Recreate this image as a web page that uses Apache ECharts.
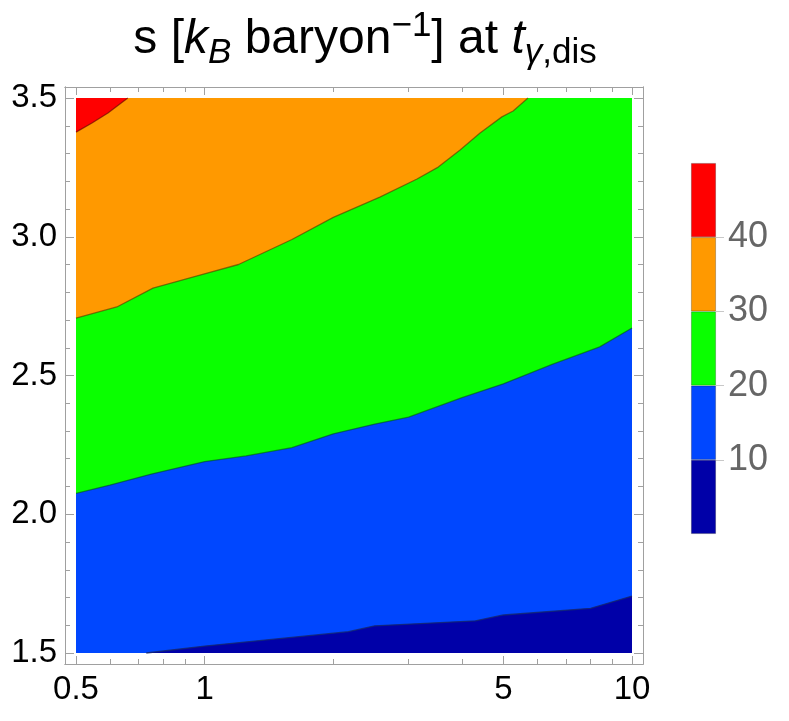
<!DOCTYPE html>
<html><head><meta charset="utf-8">
<script src="https://cdn.jsdelivr.net/npm/echarts@6/dist/echarts.min.js"></script>
<style>html,body{margin:0;padding:0;background:#fff}#c{width:789px;height:721px}</style>
</head><body><div id="c"></div>
<script>
// ---- data ----
const xTickValues = [0.5, 1, 5, 10];
const xTickLabels = ['0.5', '1', '5', '10'];
const xMinorTicks = [0.6, 0.7, 0.8, 0.9, 2, 3, 4, 6, 7, 8, 9];
const yTickValues = [1.5, 2.0, 2.5, 3.0, 3.5];
const yTickLabels = ['1.5', '2.0', '2.5', '3.0', '3.5'];
const yMinorTicks = [1.6, 1.7, 1.8, 1.9, 2.1, 2.2, 2.3, 2.4, 2.6, 2.7, 2.8, 2.9, 3.1, 3.2, 3.3, 3.4];
const xRange = [0.5, 10];
const yRange = [1.5, 3.5];
const levels = [0, 10, 20, 30, 40, 50];
const levelTicks = [10, 20, 30, 40];
const bandColors = ['#0000a8', '#0047ff', '#0aff00', '#ff9900', '#ff0000'];
// contour lines (x, y) of s = 10, 20, 30, 40
const contour10 = [[0.73, 1.5], [1.0, 1.525], [2.17, 1.577], [2.5, 1.598], [4.3, 1.616], [5.0, 1.637], [8.0, 1.661], [10, 1.705]];
const contour20 = [[0.5, 2.075], [0.6, 2.105], [0.75, 2.145], [1.0, 2.19], [1.25, 2.21], [1.6, 2.24], [2.0, 2.29], [2.5, 2.325], [3.0, 2.35], [4.0, 2.42], [5.0, 2.47], [6.5, 2.54], [8.4, 2.603], [10, 2.671]];
const contour30 = [[0.5, 2.707], [0.623, 2.747], [0.757, 2.815], [0.975, 2.862], [1.2, 2.90], [1.6, 2.99], [2.0, 3.07], [2.57, 3.143], [3.14, 3.208], [3.52, 3.251], [3.96, 3.313], [4.41, 3.374], [4.96, 3.432], [5.27, 3.453], [5.71, 3.5]];
const contour40 = [[0.5, 3.377], [0.545, 3.41], [0.594, 3.446], [0.661, 3.5]];
const topEdge = [[0.5, 3.5], [10, 3.5]];

// ---- helpers ----
const L = Math.log10;
const FONT = 'Liberation Sans, Arial, sans-serif';
const padX = 11 / 556 * (L(xRange[1]) - L(xRange[0]));
const padY = 11 / 555 * (yRange[1] - yRange[0]);
const xMin = L(xRange[0]) - padX, xMax = L(xRange[1]) + padX;
const yMin = yRange[0] - padY, yMax = yRange[1] + padY;

function regionBelow(contour) {
  const pts = contour.slice();
  const last = pts[pts.length - 1];
  if (last[0] < xRange[1]) pts.push([xRange[1], yRange[1]]);
  pts.push([xRange[1], yRange[0]]);
  pts.push([xRange[0], yRange[0]]);
  return pts;
}
function bandSeries(contour, color) {
  const poly = regionBelow(contour).map(p => [L(p[0]), p[1]]);
  return {
    type: 'custom', xAxisIndex: 0, yAxisIndex: 0, silent: true, z: 2,
    data: [poly[0]],
    renderItem(params, api) {
      const pts = poly.map(p => api.coord(p));
      return { type: 'polygon', shape: { points: pts }, style: { fill: color } };
    }
  };
}
function lineSeries(contour, color) {
  return {
    type: 'line', xAxisIndex: 0, yAxisIndex: 0, silent: true, z: 3,
    symbol: 'none', animation: false,
    data: contour.map(p => [L(p[0]), p[1]]),
    lineStyle: { color: color, width: 1.3 }
  };
}
const frameColor = '#a0a0a0';
function xAx(pos, vals, len, labels) {
  return {
    gridIndex: 0, type: 'value', position: pos, min: xMin, max: xMax,
    axisLine: { show: true, onZero: false, lineStyle: { color: frameColor, width: 1 } },
    axisTick: { show: true, inside: true, length: len, customValues: vals.map(L), lineStyle: { color: frameColor } },
    axisLabel: labels ? {
      show: true, customValues: vals.map(L), color: '#000', fontSize: 33, margin: 9, fontFamily: FONT,
      formatter: v => { const i = vals.findIndex(t => Math.abs(L(t) - v) < 1e-6); return i >= 0 ? labels[i] : ''; }
    } : { show: false },
    splitLine: { show: false }
  };
}
function yAx(pos, vals, len, labels) {
  return {
    gridIndex: 0, type: 'value', position: pos, min: yMin, max: yMax,
    axisLine: { show: true, onZero: false, lineStyle: { color: frameColor, width: 1 } },
    axisTick: { show: true, inside: true, length: len, customValues: vals, lineStyle: { color: frameColor } },
    axisLabel: labels ? {
      show: true, customValues: vals, color: '#000', fontSize: 33, margin: 8, fontFamily: FONT,
      formatter: v => { const i = vals.findIndex(t => Math.abs(t - v) < 1e-6); return i >= 0 ? labels[i] : ''; }
    } : { show: false },
    splitLine: { show: false }
  };
}

const series = [
  bandSeries(topEdge, bandColors[4]),
  bandSeries(contour40, bandColors[3]),
  bandSeries(contour30, bandColors[2]),
  bandSeries(contour20, bandColors[1]),
  bandSeries(contour10, bandColors[0]),
  lineSeries(contour40, 'rgba(90,0,0,0.6)'),
  lineSeries(contour30, 'rgba(90,50,0,0.6)'),
  lineSeries(contour20, 'rgba(0,70,0,0.5)'),
  lineSeries(contour10, 'rgba(20,40,110,0.8)')
];
for (let i = 0; i < 5; i++) {
  series.push({
    type: 'bar', xAxisIndex: 4, yAxisIndex: 4, stack: 'cb', barWidth: '100%', silent: true,
    data: [levels[i + 1] - levels[i]],
    itemStyle: { color: bandColors[i], borderColor: 'rgba(0,0,0,0.3)', borderWidth: 0.8 }
  });
}

const chart = echarts.init(document.getElementById('c'), null, { renderer: 'canvas' });
chart.setOption({
  animation: false,
  backgroundColor: '#fff',
  title: {
    text: 's [{ki|k}{subi|B} baryon{sup|\u22121}] at {ki|t}{subi|\u03b3}{sub|,dis}',
    left: 360, top: 4, textAlign: 'center',
    textStyle: {
      fontSize: 48, fontWeight: 'normal', color: '#000', lineHeight: 62, fontFamily: FONT,
      rich: {
        ki: { fontSize: 48, fontStyle: 'italic', lineHeight: 62, fontFamily: FONT },
        sub: { fontSize: 35, lineHeight: 29, verticalAlign: 'bottom', fontFamily: FONT },
        subi: { fontSize: 35, lineHeight: 29, verticalAlign: 'bottom', fontStyle: 'italic', fontFamily: FONT },
        sup: { fontSize: 35, lineHeight: 27, verticalAlign: 'top', fontFamily: FONT }
      }
    }
  },
  grid: [
    { left: 65, top: 87, width: 578, height: 577, outerBoundsMode: 'none', containLabel: false },
    { left: 691, top: 163, width: 25, height: 371, outerBoundsMode: 'none', containLabel: false }
  ],
  xAxis: [
    xAx('bottom', xTickValues, 8, xTickLabels),
    xAx('bottom', xMinorTicks, 5, null),
    xAx('top', xTickValues, 8, null),
    xAx('top', xMinorTicks, 5, null),
    { gridIndex: 1, type: 'category', data: [''], boundaryGap: true, show: false }
  ],
  yAxis: [
    yAx('left', yTickValues, 9, yTickLabels),
    yAx('left', yMinorTicks, 5, null),
    yAx('right', yTickValues, 9, null),
    yAx('right', yMinorTicks, 5, null),
    {
      gridIndex: 1, type: 'value', position: 'right', min: levels[0], max: levels[levels.length - 1],
      axisLine: { show: false },
      axisTick: { show: true, inside: false, length: 8, customValues: levelTicks, lineStyle: { color: '#c8c8c8' } },
      axisLabel: { show: true, customValues: levelTicks, color: '#666', fontSize: 36, margin: 12, fontFamily: FONT },
      splitLine: { show: false }
    }
  ],
  series: series
});
</script></body></html>
